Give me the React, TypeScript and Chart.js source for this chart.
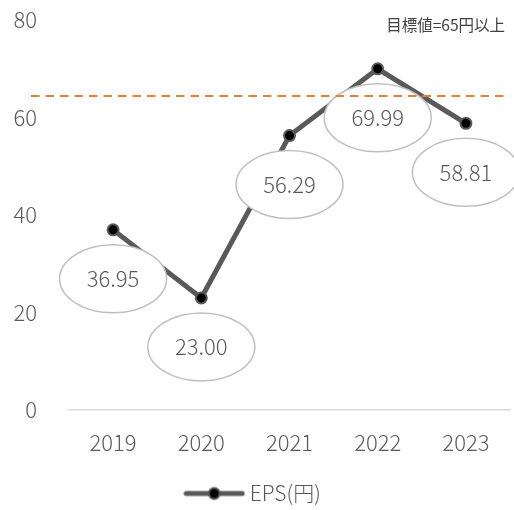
import React, { useEffect, useRef } from "react";
import { Chart, registerables } from "chart.js";

Chart.register(...registerables);

const categories = ["2019", "2020", "2021", "2022", "2023"];
const epsValues = [36.95, 23.0, 56.29, 69.99, 58.81];
const valueLabels = ["36.95", "23.00", "56.29", "69.99", "58.81"];
const yTicks = [0, 20, 40, 60, 80];
const targetValue = [64.4];
const targetText = "目標値=65円以上";
const seriesName = "EPS(円)";

const FONT = "'Noto Sans CJK JP', 'Noto Sans', sans-serif";
const GRAY = "#595959";

function makeLegendIcon(): HTMLCanvasElement {
  const c = document.createElement("canvas");
  c.width = 62;
  c.height = 18;
  const ctx = c.getContext("2d")!;
  ctx.strokeStyle = GRAY;
  ctx.lineWidth = 5;
  ctx.lineCap = "round";
  ctx.beginPath();
  ctx.moveTo(3, 9);
  ctx.lineTo(59, 9);
  ctx.stroke();
  ctx.beginPath();
  ctx.arc(31, 9, 5.5, 0, Math.PI * 2);
  ctx.fillStyle = "#000000";
  ctx.fill();
  ctx.lineWidth = 2;
  ctx.strokeStyle = GRAY;
  ctx.stroke();
  return c;
}

const labelPlugin = {
  id: "ellipseLabels",
  afterDatasetsDraw(chart: any) {
    const ctx = chart.ctx;
    const meta = chart.getDatasetMeta(0);
    ctx.save();
    meta.data.forEach((pt: any, i: number) => {
      const cx = pt.x;
      const cy = pt.y + 49;
      ctx.beginPath();
      ctx.ellipse(cx, cy, 53.5, 34, 0, 0, Math.PI * 2);
      ctx.fillStyle = "#ffffff";
      ctx.fill();
      ctx.lineWidth = 1.5;
      ctx.strokeStyle = "#BFBFBF";
      ctx.stroke();
      ctx.fillStyle = GRAY;
      ctx.font = `300 22px ${FONT}`;
      ctx.textAlign = "center";
      ctx.textBaseline = "middle";
      ctx.fillText(valueLabels[i], cx, cy);
    });
    const y = chart.scales.y.getPixelForValue(targetValue[0]);
    ctx.beginPath();
    ctx.setLineDash([8.5, 6]);
    ctx.lineWidth = 2;
    ctx.strokeStyle = "#ED7D31";
    ctx.moveTo(chart.chartArea.left - 38, y);
    ctx.lineTo(chart.chartArea.right - 4, y);
    ctx.stroke();
    ctx.setLineDash([]);
    ctx.fillStyle = "#404040";
    ctx.font = `15.5px ${FONT}`;
    ctx.textAlign = "right";
    ctx.textBaseline = "middle";
    ctx.fillText(targetText, chart.chartArea.right - 5, chart.chartArea.top + 5);
    ctx.restore();
  },
};

export default function App() {
  const ref = useRef<HTMLCanvasElement>(null);
  useEffect(() => {
    document.body.style.margin = "0";
    const icon = makeLegendIcon();
    const chart = new Chart(ref.current!, {
      type: "line",
      data: {
        labels: categories,
        datasets: [
          {
            label: seriesName,
            data: epsValues,
            borderColor: GRAY,
            borderWidth: 5,
            pointRadius: 5.5,
            pointBorderWidth: 2,
            pointBackgroundColor: "#000000",
            pointBorderColor: GRAY,
            pointStyle: "circle",
            tension: 0,
          },
        ],
      },
      options: {
        animation: false,
        responsive: false,
        layout: { padding: { top: 20, right: 4, left: 0, bottom: -4 }, autoPadding: false },
        scales: {
          x: {
            offset: true,
            grid: { display: false, drawTicks: false },
            border: { display: true, color: "#D9D9D9", width: 1.5 },
            ticks: { color: GRAY, font: { size: 22, family: FONT, weight: "300" as any }, padding: 19, maxRotation: 0 },
            afterFit: (s: any) => {
              s.height = 71;
              s.paddingLeft = 0;
              s.paddingRight = 0;
            },
          },
          y: {
            min: 0,
            max: 80,
            afterBuildTicks: (s: any) => {
              s.ticks = yTicks.map((v) => ({ value: v }));
            },
            grid: { display: false, drawTicks: false },
            border: { display: false },
            ticks: { color: GRAY, font: { size: 22, family: FONT, weight: "300" as any }, padding: 32 },
            afterFit: (s: any) => {
              s.width = 69;
              s.paddingTop = 0;
              s.paddingBottom = 0;
            },
          },
        },
        plugins: {
          legend: {
            position: "bottom",
            labels: {
              usePointStyle: true,
              pointStyleWidth: 50,
              color: GRAY,
              font: { size: 21, family: FONT, weight: "300" as any },
              padding: 2,
              generateLabels: () => [
                {
                  text: seriesName,
                  pointStyle: icon,
                  fillStyle: GRAY,
                  strokeStyle: GRAY,
                  lineWidth: 0,
                  datasetIndex: 0,
                  hidden: false,
                  fontColor: GRAY,
                },
              ],
            },
          },
          tooltip: { enabled: false },
        },
      },
      plugins: [labelPlugin],
    });
    return () => chart.destroy();
  }, []);
  return <canvas ref={ref} width={514} height={510} style={{ display: "block" }} />;
}
